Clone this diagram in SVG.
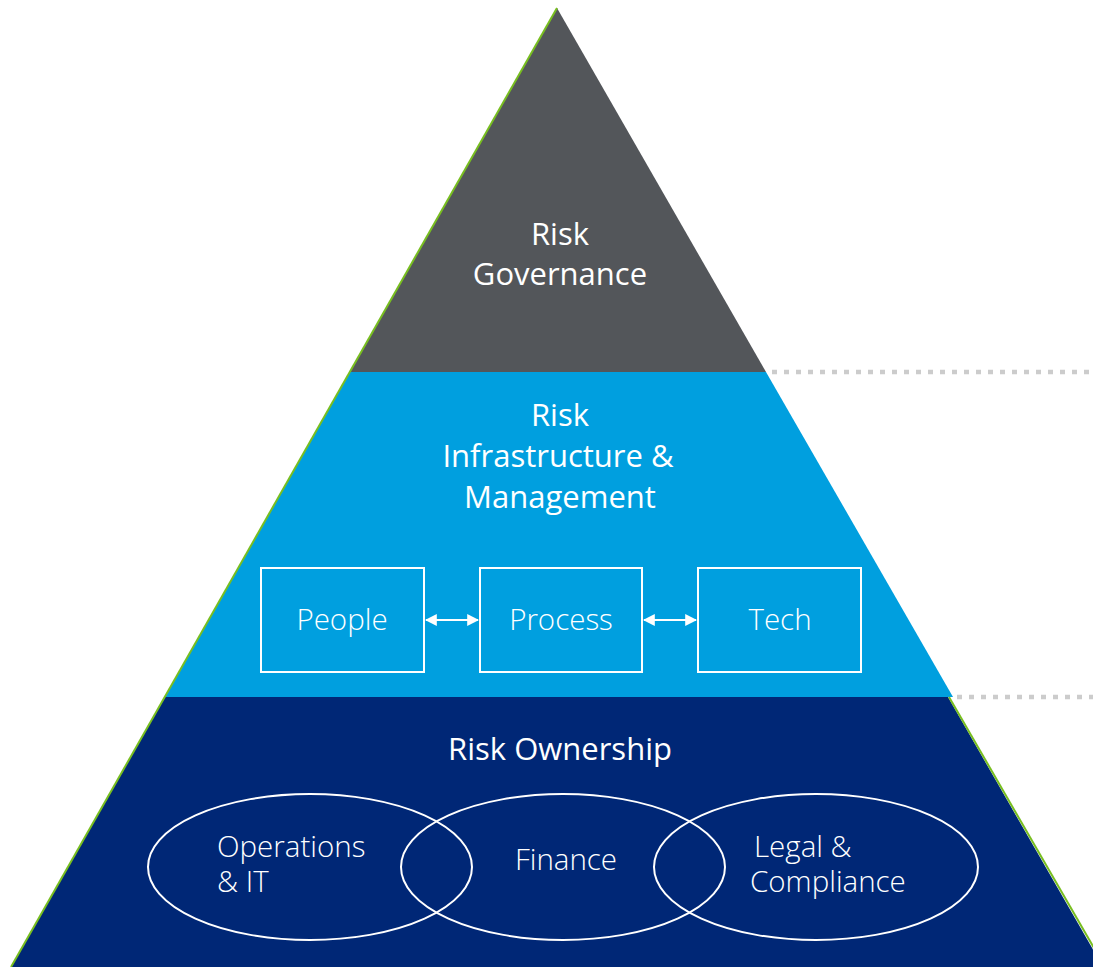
<svg xmlns="http://www.w3.org/2000/svg" width="1093" height="967" viewBox="0 0 1093 967">
<defs>
<style>
.title{font-family:"Open Sans","Noto Sans","Liberation Sans",sans-serif;font-size:31px;fill:#ffffff;text-anchor:middle}
.lbl{font-family:"Open Sans","Noto Sans","Liberation Sans",sans-serif;font-weight:300;font-size:29.5px;fill:#ffffff}
.box{fill:none;stroke:#ffffff;stroke-width:2}
.ell{fill:none;stroke:#ffffff;stroke-width:2}
.dot{stroke:#cccccc;stroke-width:4.5;stroke-dasharray:5 7;fill:none}
.edge{stroke:#78be20;stroke-width:2;fill:none}
.arr{stroke:#ffffff;stroke-width:2;fill:none;marker-start:url(#ah);marker-end:url(#ah)}
</style>
<marker id="ah" viewBox="0 0 10 10" refX="9" refY="5" markerWidth="6" markerHeight="6" orient="auto-start-reverse" markerUnits="strokeWidth">
<path d="M0,0 L10,5 L0,10 Z" fill="#ffffff"/>
</marker>
</defs>
<g id="layer-governance">
<polygon points="557,8 350,372 766,372" fill="#53565a"/>
<text class="title" x="560" y="245">Risk</text>
<text class="title" x="560" y="285">Governance</text>
</g>
<g id="layer-infrastructure">
<polygon points="350,372 766,372 953,697 165,697" fill="#009fdf"/>
<text class="title" x="560" y="426">Risk</text>
<text class="title" x="558" y="467">Infrastructure &amp;</text>
<text class="title" x="560" y="508">Management</text>
</g>
<g id="layer-ownership">
<polygon points="165,697 948,697 1103,967 11,967" fill="#002776"/>
<text class="title" x="560" y="760">Risk Ownership</text>
</g>
<g id="edges">
<line class="edge" x1="557" y1="8" x2="11" y2="967"/>
<line class="edge" x1="949" y1="697" x2="1105" y2="967"/>
</g>
<g id="node-people">
<rect class="box" x="261" y="568" width="163" height="104"/>
<text class="lbl" x="342" y="630" text-anchor="middle">People</text>
</g>
<g id="node-process">
<rect class="box" x="480" y="568" width="162" height="104"/>
<text class="lbl" x="561" y="630" text-anchor="middle">Process</text>
</g>
<g id="node-tech">
<rect class="box" x="698" y="568" width="163" height="104"/>
<text class="lbl" x="780" y="630" text-anchor="middle">Tech</text>
</g>
<g id="node-operations">
<ellipse class="ell" cx="310" cy="867" rx="162" ry="73"/>
<text class="lbl"><tspan x="217" y="857">Operations</tspan><tspan x="217" y="892">&amp; IT</tspan></text>
</g>
<g id="node-finance">
<ellipse class="ell" cx="563" cy="867" rx="162" ry="73"/>
<text class="lbl" x="566" y="870" text-anchor="middle">Finance</text>
</g>
<g id="node-legal">
<ellipse class="ell" cx="816" cy="867" rx="162" ry="73"/>
<text class="lbl"><tspan x="754" y="857">Legal &amp;</tspan><tspan x="750" y="892">Compliance</tspan></text>
</g>
<g id="connectors">
<line class="arr" x1="426" y1="620" x2="478" y2="620"/>
<line class="arr" x1="644" y1="620" x2="696" y2="620"/>
<line class="dot" x1="772" y1="372" x2="1093" y2="372"/>
<line class="dot" x1="957" y1="697" x2="1093" y2="697"/>
</g>
</svg>
